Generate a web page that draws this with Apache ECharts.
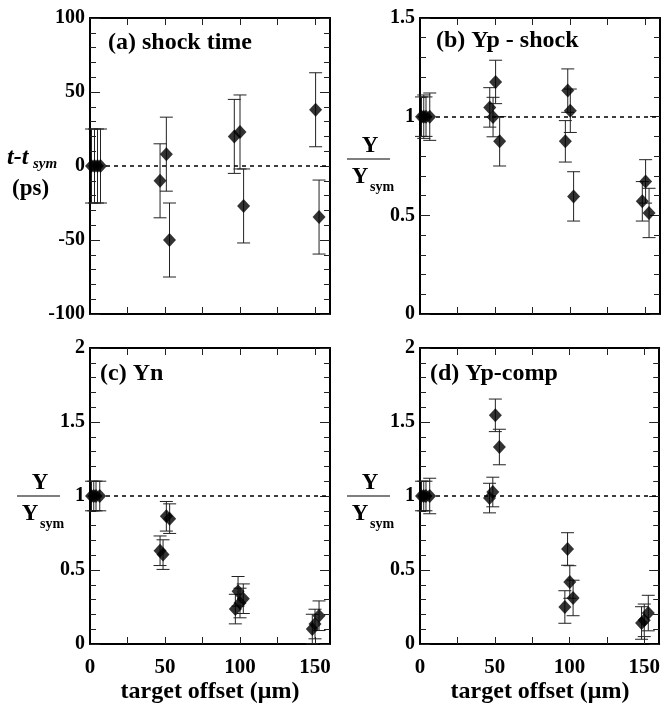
<!DOCTYPE html>
<html>
<head>
<meta charset="UTF-8">
<title>target offset</title>
<script src="https://cdn.jsdelivr.net/npm/echarts@6/dist/echarts.min.js"></script>
<style>
  html, body { margin: 0; padding: 0; background: #fff; }
  #main { width: 663px; height: 704px; }
</style>
</head>
<body>
<div id="main"></div>
<script type="text/javascript">
// (a) shock time, ps
var aX = [1, 3, 5, 7, 46.7, 50.9, 53.0, 96.2, 100.0, 102.4, 150.4, 152.7];
var aY = [0, 0, 0, 0, -10, 8, -50, 20, 23, -27, 38, -34.5];
var aErr = [25, 25, 25, 25, 25, 25, 25, 25, 25, 25, 25, 25];
// (b) Yp - shock
var bX = [1, 2.5, 4, 6.5, 46.5, 48.7, 50.4, 53.1, 96.9, 98.5, 100.2, 102.4, 148.2, 150.4, 152.7];
var bY = [1, 1, 1, 1, 1.047, 0.998, 1.176, 0.875, 0.875, 1.132, 1.03, 0.596, 0.571, 0.672, 0.512];
var bErr = [0.1, 0.11, 0.1, 0.12, 0.1, 0.1, 0.11, 0.125, 0.105, 0.11, 0.11, 0.125, 0.1, 0.11, 0.125];
// (c) Yn
var cX = [1, 2.5, 4, 6.5, 46.7, 48.7, 50.9, 53.1, 96.9, 98.7, 100.0, 102.2, 148.2, 150.0, 152.7];
var cY = [1, 1, 1, 1, 0.63, 0.604, 0.863, 0.847, 0.236, 0.356, 0.277, 0.306, 0.101, 0.135, 0.191];
var cErr = [0.1, 0.1, 0.1, 0.1, 0.1, 0.1, 0.1, 0.1, 0.1, 0.1, 0.1, 0.1, 0.1, 0.1, 0.1];
// (d) Yp-comp
var dX = [1, 2.5, 4, 6.5, 46.5, 48.7, 50.4, 53.1, 96.9, 98.7, 100.2, 102.4, 148.2, 150.0, 152.7];
var dY = [1, 1, 1, 1, 0.986, 1.027, 1.545, 1.331, 0.25, 0.642, 0.419, 0.311, 0.142, 0.16, 0.209];
var dErr = [0.1, 0.1, 0.1, 0.12, 0.1, 0.1, 0.11, 0.12, 0.11, 0.11, 0.11, 0.12, 0.11, 0.11, 0.12];

var xTicks = [25, 50, 75, 100, 125, 150];
var xLabels = [0, 50, 100, 150];

var FONT = '"Liberation Serif", "Times New Roman", serif';

var panels = [
  {x: aX, y: aY, e: aErr, min: -100, max: 100, step: 50, ref: 0, title: '(a) shock time', grid: {left: 90, top: 18}, title_xy: [108, 45], xlab: false},
  {x: bX, y: bY, e: bErr, min: 0, max: 1.5, step: 0.5, ref: 1, title: '(b) Yp - shock', grid: {left: 420, top: 18}, title_xy: [436, 43], xlab: false},
  {x: cX, y: cY, e: cErr, min: 0, max: 2, step: 0.5, ref: 1, title: '(c) Yn', grid: {left: 90, top: 348}, title_xy: [100, 376], xlab: true},
  {x: dX, y: dY, e: dErr, min: 0, max: 2, step: 0.5, ref: 1, title: '(d) Yp-comp', grid: {left: 420, top: 348}, title_xy: [430, 376], xlab: true}
];

function errRender(params, api) {
  var x = api.value(0), y = api.value(1), e = api.value(2);
  var top = api.coord([x, y + e]);
  var bot = api.coord([x, y - e]);
  var w = 6.5;
  var st = {stroke: '#222', lineWidth: 1};
  return {type: 'group', children: [
    {type: 'line', shape: {x1: top[0], y1: top[1], x2: bot[0], y2: bot[1]}, style: st},
    {type: 'line', shape: {x1: top[0] - w, y1: top[1], x2: top[0] + w, y2: top[1]}, style: st},
    {type: 'line', shape: {x1: bot[0] - w, y1: bot[1], x2: bot[0] + w, y2: bot[1]}, style: st}
  ]};
}

var grids = [], xAxes = [], yAxes = [], series = [], graphics = [];

panels.forEach(function (p, i) {
  grids.push({left: p.grid.left, top: p.grid.top, width: 240, height: 296, containLabel: false});
  ['bottom', 'top'].forEach(function (pos) {
    xAxes.push({
      type: 'value', gridIndex: i, position: pos, min: 0, max: 160,
      axisLine: {show: true, onZero: false, lineStyle: {color: '#000', width: 2}},
      axisTick: {show: true, inside: true, length: 7, customValues: xTicks, lineStyle: {color: '#222', width: 1}},
      axisLabel: {show: pos === 'bottom' && p.xlab, customValues: xLabels, margin: 13,
        color: '#000', fontFamily: FONT, fontWeight: 'bold', fontSize: 21},
      splitLine: {show: false}
    });
  });
  ['left', 'right'].forEach(function (pos) {
    yAxes.push({
      type: 'value', gridIndex: i, position: pos, min: p.min, max: p.max, interval: p.step,
      axisLine: {show: true, onZero: false, lineStyle: {color: '#000', width: 2}},
      axisTick: {show: true, inside: true, length: 10, lineStyle: {color: '#222', width: 1}},
      minorTick: {show: true, splitNumber: 5, length: 6, lineStyle: {color: '#222', width: 1}},
      axisLabel: {show: pos === 'left', margin: 5, color: '#000', fontFamily: FONT, fontWeight: 'bold', fontSize: 20},
      splitLine: {show: false}
    });
  });
  var pts = p.x.map(function (v, k) { return [v, p.y[k], p.e[k]]; });
  series.push({
    type: 'custom', xAxisIndex: i * 2, yAxisIndex: i * 2, renderItem: errRender,
    encode: {x: 0, y: 1}, data: pts, silent: true, z: 2
  });
  series.push({
    type: 'scatter', xAxisIndex: i * 2, yAxisIndex: i * 2, symbol: 'diamond', symbolSize: [13, 14],
    itemStyle: {color: '#000'}, data: pts, silent: true, z: 3,
    markLine: {
      symbol: 'none', silent: true, label: {show: false},
      lineStyle: {type: [4, 4], color: '#000', width: 1.5},
      data: [{yAxis: p.ref}]
    }
  });
  graphics.push({
    type: 'text', left: p.title_xy[0], top: p.title_xy[1] - 14,
    style: {text: p.title, font: 'bold 24px ' + FONT, fill: '#000'}
  });
  if (p.xlab) {
    graphics.push({
      type: 'text', x: p.grid.left + 120, y: 692,
      style: {text: 'target offset (\u03bcm)', font: 'bold 24px ' + FONT, fill: '#000',
        textAlign: 'center', textVerticalAlign: 'middle'}
    });
  }
});

// y-axis titles
graphics.push({type: 'text', x: 7, y: 158, style: {text: 't-t', font: 'italic bold 24px ' + FONT, fill: '#000', textVerticalAlign: 'middle'}});
graphics.push({type: 'text', x: 33, y: 164, style: {text: 'sym', font: 'italic bold 15px ' + FONT, fill: '#000', textVerticalAlign: 'middle'}});
graphics.push({type: 'text', x: 12, y: 189, style: {text: '(ps)', font: 'bold 23px ' + FONT, fill: '#000', textVerticalAlign: 'middle'}});

function fraction(lx, ly) {
  graphics.push({type: 'line', shape: {x1: lx, y1: ly, x2: lx + 43, y2: ly}, style: {stroke: '#000', lineWidth: 1.2}});
  graphics.push({type: 'text', x: lx + 23, y: ly - 13, style: {text: 'Y', font: 'bold 23px ' + FONT, fill: '#000', textAlign: 'center', textVerticalAlign: 'middle'}});
  graphics.push({type: 'text', x: lx + 13, y: ly + 18, style: {text: 'Y', font: 'bold 23px ' + FONT, fill: '#000', textAlign: 'center', textVerticalAlign: 'middle'}});
  graphics.push({type: 'text', x: lx + 35, y: ly + 28, style: {text: 'sym', font: 'bold 14px ' + FONT, fill: '#000', textAlign: 'center', textVerticalAlign: 'middle'}});
}
fraction(347, 159);
fraction(17, 496);
fraction(347, 496);

var myChart = echarts.init(document.getElementById('main'));
myChart.setOption({
  animation: false,
  backgroundColor: '#fff',
  grid: grids,
  xAxis: xAxes,
  yAxis: yAxes,
  series: series,
  graphic: graphics
});
</script>
</body>
</html>
